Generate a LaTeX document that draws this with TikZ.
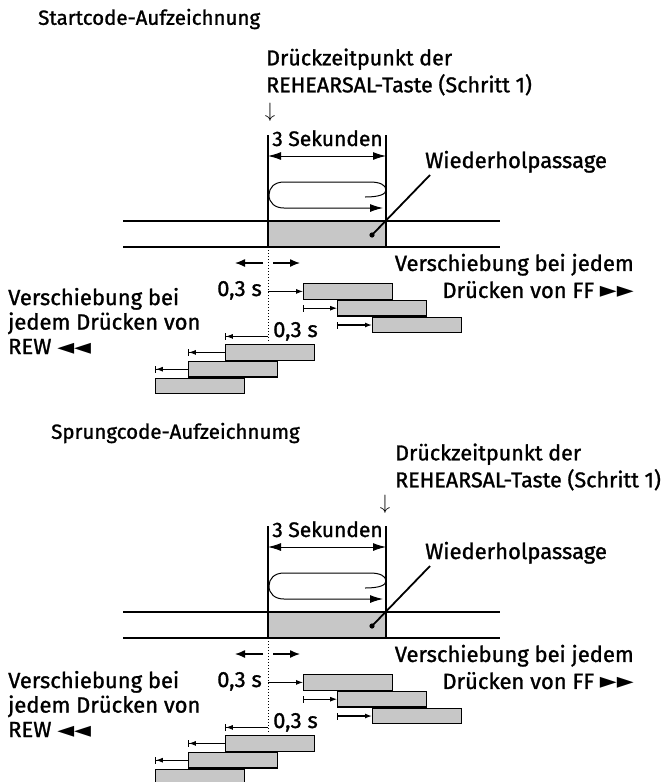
\documentclass[tikz,border=0pt]{standalone}
\usepackage{fontspec}
\setmainfont{Fira Sans}[RawFeature={embolden=1.2}]
\newfontfamily\symfont{DejaVu Sans}
\usetikzlibrary{arrows.meta,positioning}

\tikzset{
  txt/.style={inner sep=0pt, font=\fontsize{22}{26}\selectfont},
  ttl/.style={inner sep=0pt, font=\fontsize{20.5}{24}\selectfont},
  tapeline/.style={line width=1.4pt},
  seg/.style={draw, line width=1.3pt, fill=black!22, minimum width=89pt,
    minimum height=15.5pt, inner sep=0pt},
  dimarrow/.style={line width=1pt,
    {Latex[length=13pt,width=8pt]}-{Latex[length=13pt,width=8pt]}},
  steparrow/.style={line width=0.9pt, -{Latex[length=7pt,width=5pt]}},
  ffarrow/.style={steparrow, {Bar[width=7pt]}-{Latex[length=7pt,width=5pt]}},
  rewarrow/.style={steparrow, -{Latex[length=7pt,width=5pt]Bar[width=7pt]}},
}

% common part of one recording diagram (tape, loop, shifted segments)
\newcommand{\tapeblock}{%
  \coordinate (ltop) at (268,135);
  \coordinate (rtop) at (386,135);
  \coordinate (d0) at (268,247);
  \coordinate (d1) at (268,342);
  % repeated passage on the tape
  \fill[black!22] (268,221) rectangle (386,247);
  \draw[tapeline] (123,221) -- (500,221);
  \draw[tapeline] (123,247) -- (500,247);
  \draw[line width=1.2pt] (ltop) -- (d0);
  \draw[line width=1.2pt] (rtop) -- (386,247);
  \node[txt, anchor=base, font=\fontsize{21}{26}\selectfont] (sek) at (327.5,146) {3 Sekunden};
  \draw[dimarrow] (268,156) -- (386,156);
  % playback loop
  \draw[line width=1pt, -{Latex[length=13pt,width=8pt]}]
    (365,197) .. controls (380,197) and (386,194) .. (386,190)
    .. controls (386,185) and (380,182) .. (370,182) -- (284,182)
    .. controls (274,182) and (269,188) .. (269,195)
    .. controls (269,203) and (275,208) .. (284,208) -- (383,208);
  \node[txt, anchor=base west] (wied) at (425,168) {Wiederholpassage};
  \coordinate (lead) at (430,175);
  \fill (372,235) circle (2.6pt);
  \draw[line width=1.8pt] (372,235) -- (lead);
  % start point and shift direction
  \draw[line width=1pt, dotted] (d0) -- (d1);
  \draw[line width=1.3pt, -{Latex[length=10pt,width=8pt]}] (263,263) -- (235,263);
  \draw[line width=1.3pt, -{Latex[length=10pt,width=8pt]}] (273,263) -- (300,263);
  % FF shifts
  \node[seg, anchor=north west] (f1) at (303,283) {};
  \node[seg, anchor=north west] (f2) at ([xshift=34pt]f1.south west) {};
  \node[seg, anchor=north west] (f3) at ([xshift=35pt]f2.south west) {};
  \node[txt, anchor=base east] (ffs) at (262,296) {0,3 s};
  \draw[steparrow] (d0 |- f1.west) -- (f1.west);
  \draw[ffarrow] (f1.west |- f2.west) -- (f2.west);
  \draw[ffarrow, line width=1.3pt] (f2.west |- f3.west) -- (f3.west);
  \node[txt, anchor=east, align=right, font=\fontsize{22}{27}\selectfont] (fftxt) at (634,276)
    {Verschiebung bei jedem\\Drücken von FF {\symfont ►►}};
  % REW shifts
  \node[seg, anchor=north west] (r1) at (225,344) {};
  \node[seg, anchor=north east] (r2) at ([xshift=-37pt]r1.south east) {};
  \node[seg, anchor=north east] (r3) at ([xshift=-33pt]r2.south east) {};
  \node[txt, anchor=base west] (rews) at (273,337) {0,3 s};
  \coordinate (r0) at ([yshift=16pt]r1.west);
  \draw[rewarrow] (d0 |- r0) -- (r0);
  \draw[rewarrow] (r1.west) -- (r2.west |- r1.west);
  \draw[rewarrow] (r2.west) -- (r3.west |- r2.west);
}

\begin{document}
\begin{tikzpicture}[x=1pt, y=-1pt]
  \useasboundingbox (0,0) rectangle (668,782);

  % Startcode
  \begin{scope}[name prefix=st-]
    \node[ttl, anchor=west] (title) at (38,19) {Startcode-Aufzeichnung};
    \node[txt, anchor=west, align=left, font=\fontsize{21.5}{27}\selectfont] (press) at (266,72)
      {Drückzeitpunkt der\\REHEARSAL-Taste (Schritt 1)};
    \node[txt, anchor=base] (down) at (270,117) {$\downarrow$};
    \node[txt, anchor=west, align=left, font=\fontsize{22}{24.5}\selectfont] (rewtxt) at (8,321)
      {Verschiebung bei\\jedem Drücken von\\REW {\symfont ◄◄}};
    \tapeblock
  \end{scope}

  % Sprungcode
  \begin{scope}[name prefix=sp-, shift={(0,391)}]
    \node[ttl, anchor=west] (title) at (51,42) {Sprungcode-Aufzeichnumg};
    \node[txt, anchor=west, align=left, font=\fontsize{21.5}{27}\selectfont] (press) at (395,76)
      {Drückzeitpunkt der\\REHEARSAL-Taste (Schritt 1)};
    \node[txt, anchor=base] (down) at (385,118) {$\downarrow$};
    \node[txt, anchor=west, align=left, font=\fontsize{22}{24.5}\selectfont] (rewtxt) at (8,313)
      {Verschiebung bei\\jedem Drücken von\\REW {\symfont ◄◄}};
    \tapeblock
  \end{scope}
\end{tikzpicture}
\end{document}
